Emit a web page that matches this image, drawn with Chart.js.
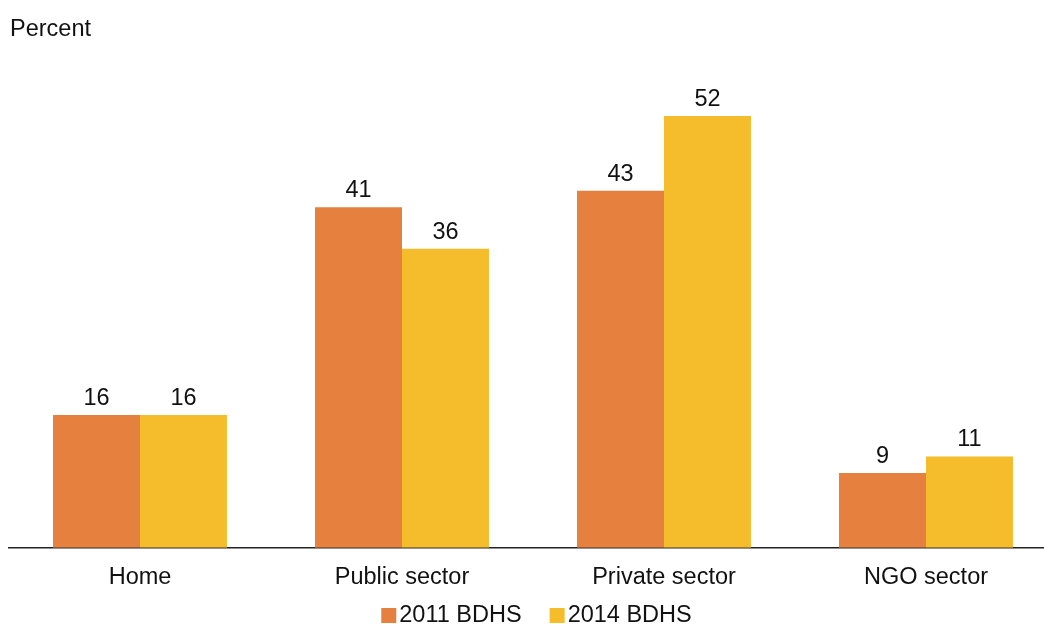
<!DOCTYPE html>
<html><head><meta charset="utf-8">
<script src="https://cdn.jsdelivr.net/npm/chart.js@4"></script>
<style>html,body{margin:0;padding:0;background:#fff;overflow:hidden}
#wrap{width:1044px;height:624px;overflow:hidden;position:relative;background:#fff}
#c{position:absolute;left:0;top:0}
</style></head><body>
<div id="wrap"><canvas id="c" width="1057" height="624"></canvas></div>
<script>
const categories = ["Home", "Public sector", "Private sector", "NGO sector"];
const seriesNames = ["2011 BDHS", "2014 BDHS"];
const values2011 = [16, 41, 43, 9];
const values2014 = [16, 36, 52, 11];
const seriesColors = ["#E5803F", "#F5BC2C"];
const yAxisTitle = "Percent";

const FONT = "'Liberation Sans', Arial, sans-serif";
const FS = 23.5;

const labelPlugin = {
  id: 'valueLabels',
  afterDatasetsDraw(chart) {
    const ctx = chart.ctx;
    ctx.save();
    ctx.font = FS + "px " + FONT;
    ctx.fillStyle = "#111";
    ctx.textAlign = "center";
    ctx.textBaseline = "alphabetic";
    chart.data.datasets.forEach((ds, i) => {
      chart.getDatasetMeta(i).data.forEach((bar, j) => {
        ctx.fillText(String(ds.data[j]), bar.x, bar.y - 10);
      });
    });
    ctx.restore();
  }
};

const extrasPlugin = {
  id: 'extras',
  afterDraw(chart) {
    const ctx = chart.ctx;
    ctx.save();
    ctx.font = FS + "px " + FONT;
    ctx.fillStyle = "#111";
    ctx.textBaseline = "alphabetic";
    ctx.textAlign = "left";
    ctx.fillText(yAxisTitle, 10, 36);
    // legend
    const box = 15, gap = 3, itemGap = 28;
    const widths = seriesNames.map(s => ctx.measureText(s).width);
    let total = 0;
    widths.forEach((w, i) => { total += box + gap + w + (i < widths.length - 1 ? itemGap : 0); });
    let x = 536.5 - total / 2;
    const baseY = 622;
    seriesNames.forEach((s, i) => {
      ctx.fillStyle = seriesColors[i];
      ctx.fillRect(x, baseY - 14, box, box);
      ctx.fillStyle = "#111";
      ctx.fillText(s, x + box + gap, baseY);
      x += box + gap + widths[i] + itemGap;
    });
    ctx.restore();
  }
};

new Chart(document.getElementById('c'), {
  type: 'bar',
  data: {
    labels: categories,
    datasets: [
      { label: seriesNames[0], data: values2011, backgroundColor: seriesColors[0], borderWidth: 0,
        categoryPercentage: 0.664, barPercentage: 1.0 },
      { label: seriesNames[1], data: values2014, backgroundColor: seriesColors[1], borderWidth: 0,
        categoryPercentage: 0.664, barPercentage: 1.0 }
    ]
  },
  options: {
    responsive: false,
    animation: false,
    devicePixelRatio: 1,
    layout: { padding: { left: 9, right: 0, top: 49.5, bottom: 16 } },
    plugins: { legend: { display: false }, title: { display: false }, tooltip: { enabled: false } },
    scales: {
      y: { display: false, min: 0, max: 60 },
      x: {
        grid: { display: false, drawTicks: false },
        border: { display: true, color: '#222', width: 1.5 },
        ticks: { color: '#111', font: { family: FONT, size: FS }, padding: 16, maxRotation: 0, autoSkip: false }
      }
    }
  },
  plugins: [labelPlugin, extrasPlugin]
});
</script>
</body></html>
